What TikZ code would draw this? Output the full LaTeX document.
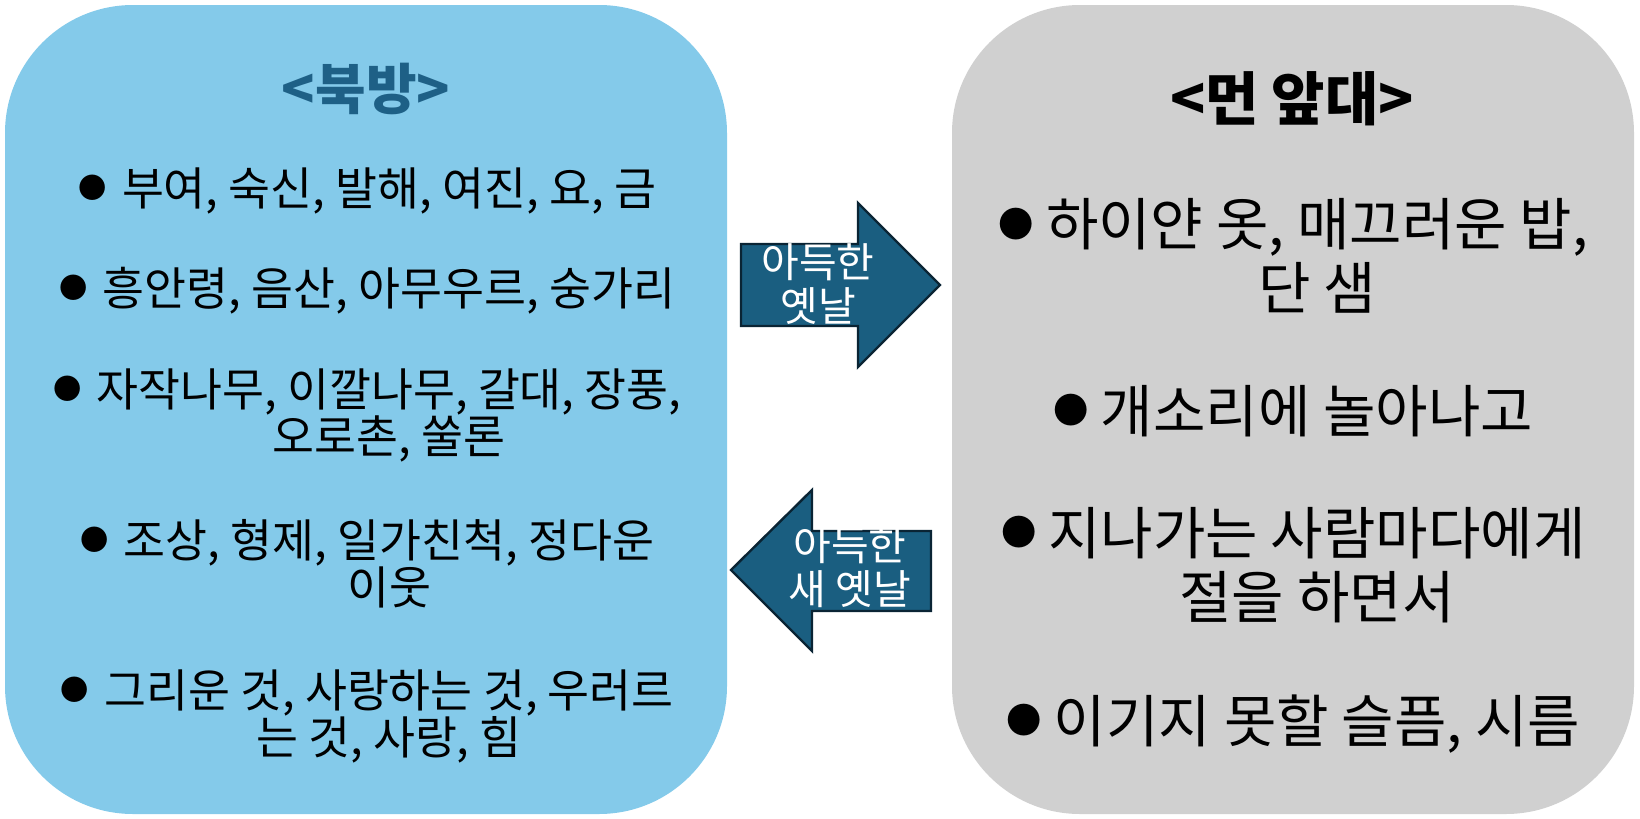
\documentclass[tikz,border=0pt]{standalone}
\usepackage{fontspec}
\newfontfamily\kr{Noto Sans CJK KR}
\usepackage{tikz}
\definecolor{northblue}{RGB}{132,202,234}
\definecolor{frontgray}{RGB}{208,208,208}
\definecolor{arrowblue}{RGB}{26,94,128}
\definecolor{arrowline}{RGB}{10,36,52}
\definecolor{titleblue}{RGB}{30,96,134}
\newcommand{\dotmark}{\raisebox{0.15em}{\scalebox{0.62}{●}}}
\newcommand{\lbul}{\llap{\dotmark\hspace{7.5pt}}}
\newcommand{\rbul}{\llap{\dotmark\hspace{6pt}}}

\begin{document}
\begin{tikzpicture}[x=0.5pt,y=-0.5pt,
  lefttxt/.style={font=\kr\fontsize{22.8}{23.5}\selectfont,align=center},
  righttxt/.style={font=\kr\fontsize{28.5}{32}\selectfont,align=center},
  headtxt/.style={font=\kr\bfseries\fontsize{27.5}{32}\selectfont},
  arrowtxt/.style={font=\kr\fontsize{20.5}{22}\selectfont,align=center,text=white},
  bigarrow/.style={fill=arrowblue,draw=arrowline,line width=1.2pt}]
\useasboundingbox (0,0) rectangle (1640,819);
\fill[northblue,rounded corners=64pt](5,5) rectangle (727,814);
\fill[frontgray,rounded corners=64pt](952,5) rectangle (1634,814);
\filldraw[bigarrow](741,244)--(858,244)--(858,203)--(940,285)--(858,367)--(858,326)--(741,326)--cycle;
\filldraw[bigarrow](931,531)--(812,531)--(812,490)--(731,570)--(812,651)--(812,611)--(931,611)--cycle;
\node[arrowtxt](goarrow) at (818,284){아득한\\옛날};
\node[arrowtxt](backarrow) at (850,567){아득한\\새 옛날};
\node[headtxt,text=titleblue](north) at (366,89){<북방>};
\node[lefttxt](nf1) at (389,191){\lbul 부여, 숙신, 발해, 여진, 요, 금};
\node[lefttxt](nf2) at (389,291){\lbul 흥안령, 음산, 아무우르, 숭가리};
\node[lefttxt](nf3) at (389,415){\lbul 자작나무, 이깔나무, 갈대, 장풍,\\오로촌, 쑬론};
\node[lefttxt](nf4) at (389,564){\lbul 조상, 형제, 일가친척, 정다운\\이웃};
\node[lefttxt](nf5) at (389,716){\lbul 그리운 것, 사랑하는 것, 우러르\\는 것, 사랑, 힘};
\node[headtxt,font=\kr\bfseries\fontsize{29}{32}\selectfont](front) at (1292,99){<먼 앞대>};
\node[righttxt](ff1) at (1317,256){\rbul 하이얀 옷, 매끄러운 밥,\\단 샘};
\node[righttxt](ff2) at (1317,411){\rbul 개소리에 놀아나고};
\node[righttxt](ff3) at (1317,565){\rbul 지나가는 사람마다에게\\절을 하면서};
\node[righttxt](ff4) at (1317,724){\rbul 이기지 못할 슬픔, 시름};
\end{tikzpicture}
\end{document}
